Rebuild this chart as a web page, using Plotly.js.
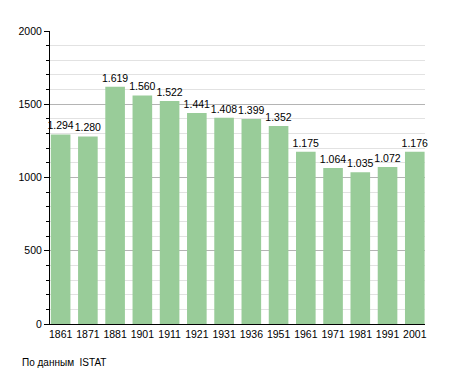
<!DOCTYPE html>
<html><head><meta charset="utf-8">
<script src="https://cdn.plot.ly/plotly-3.0.1.min.js"></script>
<style>body{margin:0;background:#fff}#c{width:455px;height:373px}</style>
</head><body><div id="c"></div>
<script>
const years = ["1861","1871","1881","1901","1911","1921","1931","1936","1951","1961","1971","1981","1991","2001"];
const population = [1294,1280,1619,1560,1522,1441,1408,1399,1352,1175,1064,1035,1072,1176];
const yTicks = [0,500,1000,1500,2000];
const sourceNote = "По данным  ISTAT";

const labels = population.map(v => { const s = String(v); return s.length > 3 ? s.slice(0, s.length-3) + "." + s.slice(-3) : s; });

Plotly.newPlot("c", [{
  type: "bar", x: years, y: population, text: labels,
  textposition: "outside", constraintext: "none", cliponaxis: false,
  textfont: {family: "Liberation Sans, Arial, sans-serif", size: 10.5, color: "#000"},
  marker: {color: "rgb(153,204,153)"}, hoverinfo: "none"
}], {
  width: 455, height: 373,
  margin: {l: 50, r: 29.5, t: 31, b: 49},
  paper_bgcolor: "#fff", plot_bgcolor: "#fff",
  bargap: 0.28, showlegend: false,
  font: {family: "Liberation Sans, Arial, sans-serif", size: 10.5, color: "#000"},
  xaxis: {type: "category", range: [-0.39, 13.375], showline: true, linecolor: "#000", linewidth: 1, ticks: "", showgrid: false, tickfont: {size: 10.5}},
  yaxis: {range: [0, 2000], tickvals: yTicks, ticktext: yTicks.map(String), showline: true, linecolor: "#000", linewidth: 1,
    ticks: "outside", ticklen: 5, tickcolor: "#000", gridcolor: "#b4b4b4", zeroline: false, tickfont: {size: 10.5},
    minor: {dtick: 100, showgrid: true, gridcolor: "#e2e2e2", ticks: "outside", ticklen: 3, tickcolor: "#000"}},
  annotations: [{text: sourceNote, xref: "paper", yref: "paper", x: -0.08, y: -0.132, xanchor: "left", yanchor: "middle", showarrow: false, font: {size: 10}}]
}, {staticPlot: true});
</script></body></html>
